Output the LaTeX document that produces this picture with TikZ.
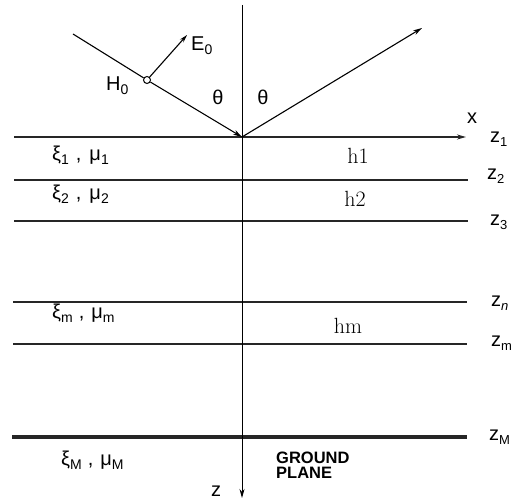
\documentclass[tikz,border=0pt]{standalone}
\usepackage{fix-cm}
\usepackage{fontspec}
\newfontfamily\lab{Liberation Sans}
\usetikzlibrary{arrows.meta}
\newcommand{\zl}[1]{{\lab z\raisebox{-4pt}{\fontsize{13}{13}\selectfont #1}}}
\newcommand{\sbs}[1]{\raisebox{-4pt}{\fontsize{14}{14}\selectfont #1}}
\begin{document}
\begin{tikzpicture}[x=1pt,y=-1pt,
  layer/.style={line width=1.3pt,black!85},
  axis/.style={line width=0.9pt},
  sanslab/.style={font=\lab\fontsize{20}{20}\selectfont,inner sep=0pt},
  greek/.style={font=\lab\fontsize{20}{20}\selectfont,inner sep=0pt},
  serlab/.style={font=\fontsize{22}{22}\selectfont,inner sep=0pt},
  tip/.style={-{Stealth[length=9pt,width=5pt]}}]
\useasboundingbox (0,0) rectangle (518,502);
% coordinates
\coordinate (O) at (242,137);
\coordinate (ztop) at (242,5);
\coordinate (zbot) at (242,498);
\coordinate (inc) at (73,34);
\coordinate (refl) at (422,28);
\coordinate (eend) at (187,35);
% layers
\coordinate (l1) at (14,137); \coordinate (r1) at (466,137);
\coordinate (l2) at (14,180); \coordinate (r2) at (468,180);
\coordinate (l3) at (14,221); \coordinate (r3) at (468,221);
\coordinate (ln) at (13,302); \coordinate (rn) at (467,302);
\coordinate (lm) at (13,344); \coordinate (rm) at (467,344);
\coordinate (lM) at (12,437); \coordinate (rM) at (467,437);
\draw[layer,tip] (l1) -- (r1);
\draw[layer] (l2) -- (r2);
\draw[layer] (l3) -- (r3);
\draw[layer] (ln) -- (rn);
\draw[layer] (lm) -- (rm);
\draw[line width=3.6pt,black!85] (lM) -- (rM);
% z axis
\draw[axis,tip] (ztop) -- (zbot);
% rays
\node[circle,draw,line width=1pt,fill=white,minimum size=7pt,inner sep=0pt] (H) at (147,80) {};
\draw[line width=1.1pt] (inc) -- (H);
\draw[line width=1.1pt,tip] (H) -- (O);
\draw[line width=1.1pt,tip] (O) -- (refl);
\draw[line width=1.1pt,-{Stealth[length=8pt,width=4.5pt]}] (H) -- (eend);
% labels
\node[sanslab,anchor=west] (E0) at (191,46) {E\sbs{0}};
\node[sanslab,anchor=west] (H0) at (106,86) {H\sbs{0}};
\node[greek] (th1) at (218,97) {θ};
\node[greek] (th2) at (263,97) {θ};
\node[sanslab] (xl) at (472,118) {x};
\node[sanslab,anchor=west] (z1) at (490,139) {\zl{1}};
\node[sanslab,anchor=west] (z2) at (487,176) {\zl{2}};
\node[sanslab,anchor=west] (z3) at (490,222) {\zl{3}};
\node[sanslab,anchor=west] (zn) at (491,303) {\zl{\itshape n}};
\node[sanslab,anchor=west] (zm) at (491,343) {\zl{m}};
\node[sanslab,anchor=west] (zM) at (489,437) {\zl{M}};
\node[serlab] (h1) at (358,156) {h1};
\node[serlab] (h2) at (355,199) {h2};
\node[serlab] (hm) at (348,326) {hm};
\node[greek,anchor=west] (m1) at (52,155) {ξ\sbs{1}\hspace{7pt},\hspace{8pt}μ\sbs{1}};
\node[greek,anchor=west] (m2) at (52,194) {ξ\sbs{2}\hspace{7pt},\hspace{8pt}μ\sbs{2}};
\node[greek,anchor=west] (mm) at (52,313) {ξ\sbs{m}\hspace{6pt},\hspace{7pt}μ\sbs{m}};
\node[greek,anchor=west] (mM) at (61,460) {ξ\sbs{M}\hspace{6pt},\hspace{7pt}μ\sbs{M}};
\node[font=\lab\bfseries\fontsize{16.5}{16}\selectfont,align=left,anchor=north west,inner sep=0pt] (gp) at (276,452) {GROUND\\[-1pt]PLANE};
\node[sanslab] (zl) at (216,491) {z};
\end{tikzpicture}
\end{document}
